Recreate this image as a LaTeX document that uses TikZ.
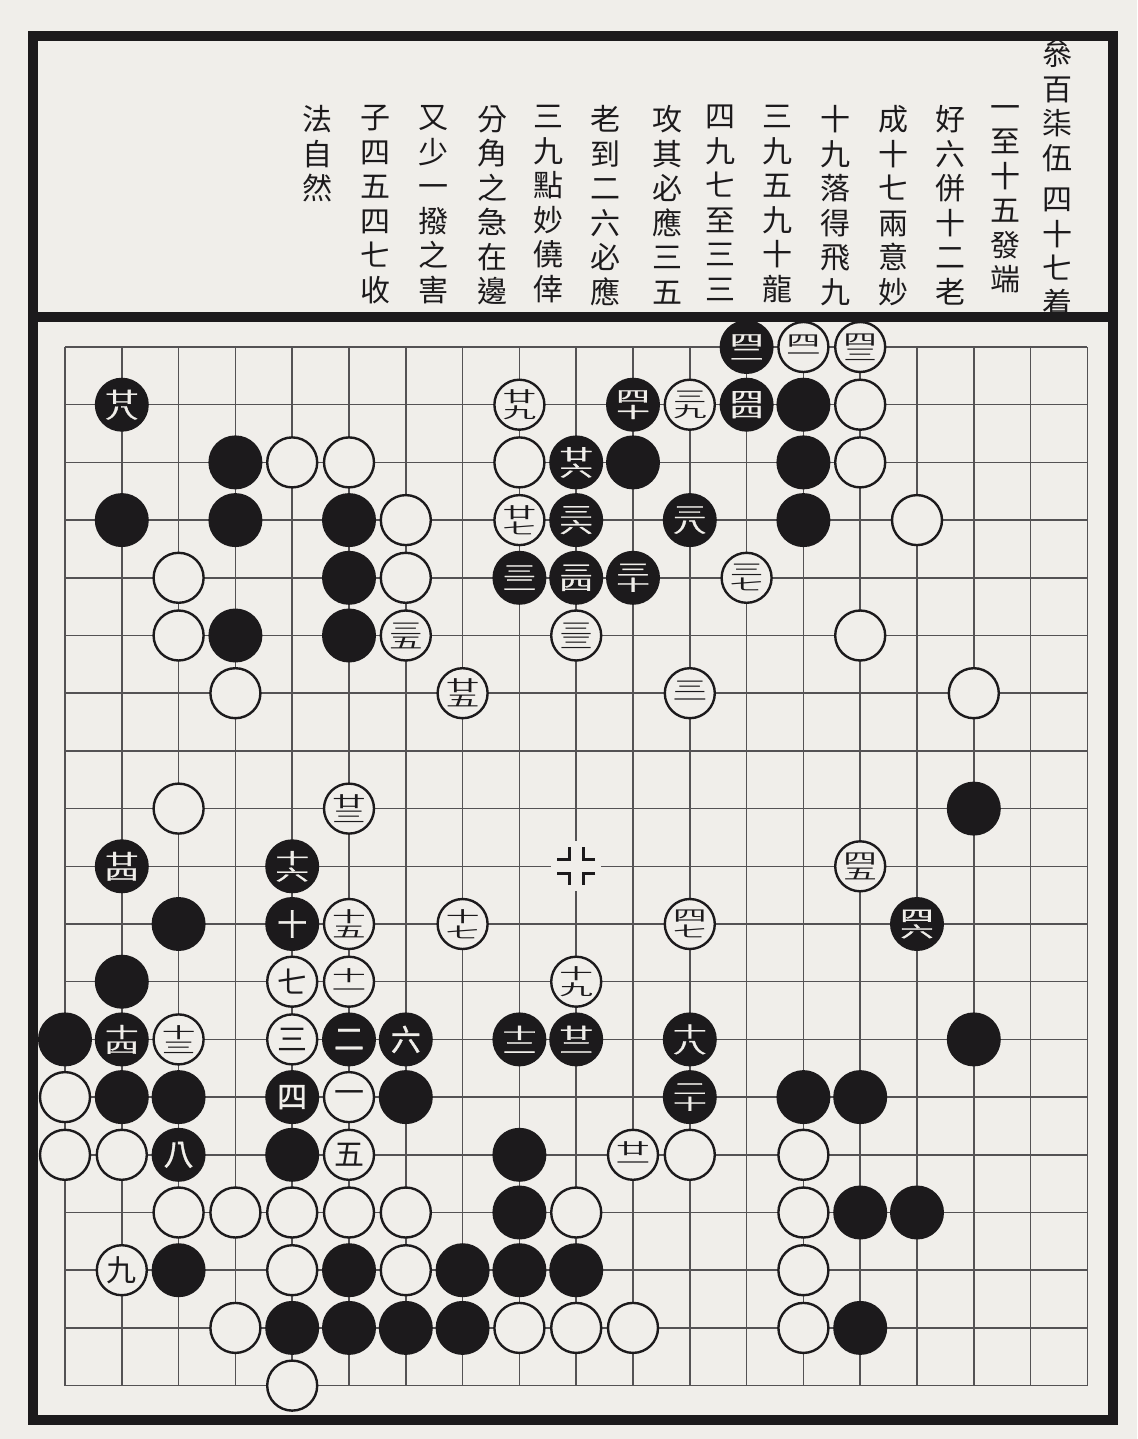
\documentclass[tikz,border=0pt]{standalone}
\usepackage{fontspec}
\usepackage{graphicx}
\newfontfamily\cjk{Noto Sans CJK TC}
\newfontfamily\cjkb{Noto Sans CJK TC}[FakeBold=1.2]
\definecolor{paper}{RGB}{240,238,234}
\definecolor{ink}{RGB}{28,26,28}
\definecolor{gridc}{RGB}{84,82,84}
\newcommand{\stk}[2]{\vbox{\offinterlineskip\halign{\hfil##\hfil\cr\scalebox{1.2}[0.55]{#1}\cr\noalign{\kern1.2pt}\scalebox{1.2}[0.55]{#2}\cr}}}
\newcommand{\stkone}[1]{\vbox{\offinterlineskip\halign{\hfil##\hfil\cr\scalebox{1.2}[0.55]{#1}\cr\noalign{\kern3pt}\scalebox{1.2}[0.55]{一}\cr}}}
\begin{document}
\begin{tikzpicture}[x=0.5pt,y=-0.5pt,
  gridline/.style={draw=gridc, line width=0.75pt},
  framel/.style={draw=ink, line width=5pt},
  stone/.style={circle, inner sep=0pt},
  bst/.style={stone, fill=ink, draw=none, minimum size=27pt, text=paper, font=\cjkb\fontsize{14}{14}\selectfont},
  wst/.style={stone, fill=paper, draw=ink, line width=1.2pt, minimum size=25pt, text=ink, font=\cjk\fontsize{14}{14}\selectfont},
  bigb/.style={font=\cjkb\fontsize{15}{15}\selectfont},
  bigw/.style={font=\cjk\fontsize{15}{15}\selectfont},
  colt/.style={anchor=north, align=center, inner sep=0pt, text=ink, font=\cjk\fontsize{15}{17.25}\selectfont},
  marker/.style={draw=ink, line width=1.6pt}]
\fill[paper] (0,0) rectangle (1137,1439);
\useasboundingbox (0,0) rectangle (1137,1439);
% grid coordinates
\foreach \i in {0,...,18} {
  \foreach \j in {0,...,18} {
    \coordinate (g-\i-\j) at ({65+56.8*\i},{347+57.7*\j});
  }
}
\foreach \i in {0,...,18} \draw[gridline] (g-\i-0) -- (g-\i-18);
\foreach \j in {0,...,18} \draw[gridline] (g-0-\j) -- (g-18-\j);
% centre marker
\begin{scope}[shift={(g-9-9)}]
  \fill[paper] (-25,-25) rectangle (25,25);
  \draw[marker] (-19,-7) -- (-7,-7) -- (-7,-19);
  \draw[marker] (19,-7) -- (7,-7) -- (7,-19);
  \draw[marker] (-19,7) -- (-7,7) -- (-7,19);
  \draw[marker] (19,7) -- (7,7) -- (7,19);
\end{scope}
% frame
\draw[framel] (33,36) rectangle (1113,1420);
\draw[framel] (33,317) -- (1113,317);
% text columns
\node[colt] (t1) at (1057,40) {叅\\百\\柒\\伍\\[3.5pt]四\\十\\七\\着};
\node[colt] (t2) at (1005,105) {一\\至\\十\\五\\發\\端};
\node[colt] (t3) at (950,105) {好\\六\\併\\十\\二\\老};
\node[colt] (t4) at (893,105) {成\\十\\七\\兩\\意\\妙};
\node[colt] (t5) at (835,105) {十\\九\\落\\得\\飛\\九};
\node[colt] (t6) at (777,105) {三\\九\\五\\九\\十\\龍};
\node[colt] (t7) at (720,105) {四\\九\\七\\至\\三\\三};
\node[colt] (t8) at (667,105) {攻\\其\\必\\應\\三\\五};
\node[colt] (t9) at (605,105) {老\\到\\二\\六\\必\\應};
\node[colt] (t10) at (548,105) {三\\九\\點\\妙\\僥\\倖};
\node[colt] (t11) at (492,105) {分\\角\\之\\急\\在\\邊};
\node[colt] (t12) at (433,105) {又\\少\\一\\撥\\之\\害};
\node[colt] (t13) at (375,105) {子\\四\\五\\四\\七\\收};
\node[colt] (t14) at (317,105) {法\\自\\然};
% plain black stones
\foreach \c/\r in {13/1,3/2,10/2,13/2,1/3,3/3,5/3,13/3,5/4,3/5,5/5,16/8,2/10,1/11,0/12,16/12,1/13,2/13,6/13,13/13,14/13,4/14,8/14,8/15,14/15,15/15,2/16,5/16,7/16,8/16,9/16,4/17,5/17,6/17,7/17,14/17}
  \node[bst] (b-\c-\r) at (g-\c-\r) {};
% plain white stones
\foreach \c/\r in {14/1,4/2,5/2,8/2,14/2,6/3,15/3,2/4,6/4,2/5,14/5,3/6,16/6,2/8,0/13,0/14,1/14,11/14,13/14,2/15,3/15,4/15,5/15,6/15,9/15,13/15,4/16,6/16,13/16,3/17,8/17,9/17,10/17,13/17,4/18}
  \node[wst] (w-\c-\r) at (g-\c-\r) {};
% numbered black stones (two-part numerals)
\foreach \c/\r/\a/\b in {12/0/四/二,1/1/廿/八,10/1/四/十,12/1/四/四,9/2/廿/六,9/3/三/六,11/3/三/八,8/4/三/二,9/4/三/四,10/4/三/十,1/9/廿/四,4/9/十/六,15/10/四/六,1/12/十/四,8/12/十/二,9/12/廿/二,11/12/十/八,11/13/二/十}
  \node[bst] (b-\c-\r) at (g-\c-\r) {\stk{\a}{\b}};
% numbered black stones (single numerals)
\foreach \c/\r/\a in {4/10/十,5/12/二,6/12/六,4/13/四,2/14/八}
  \node[bst,bigb] (b-\c-\r) at (g-\c-\r) {\a};
% numbered white stones (two-part numerals)
\foreach \c/\r/\a/\b in {14/0/四/三,8/1/廿/九,11/1/三/九,8/3/廿/七,12/4/三/七,6/5/三/五,9/5/三/三,7/6/廿/五,5/8/廿/三,14/9/四/五,5/10/十/五,7/10/十/七,11/10/四/七,9/11/十/九,2/12/十/三}
  \node[wst] (w-\c-\r) at (g-\c-\r) {\stk{\a}{\b}};
% numbered white stones ending in one
\foreach \c/\r/\a in {13/0/四,11/6/三,5/11/十,10/14/廿}
  \node[wst] (w-\c-\r) at (g-\c-\r) {\stkone{\a}};
% numbered white stones (single numerals)
\foreach \c/\r/\a in {4/11/七,4/12/三,5/13/一,5/14/五,1/16/九}
  \node[wst,bigw] (w-\c-\r) at (g-\c-\r) {\a};
\end{tikzpicture}
\end{document}
